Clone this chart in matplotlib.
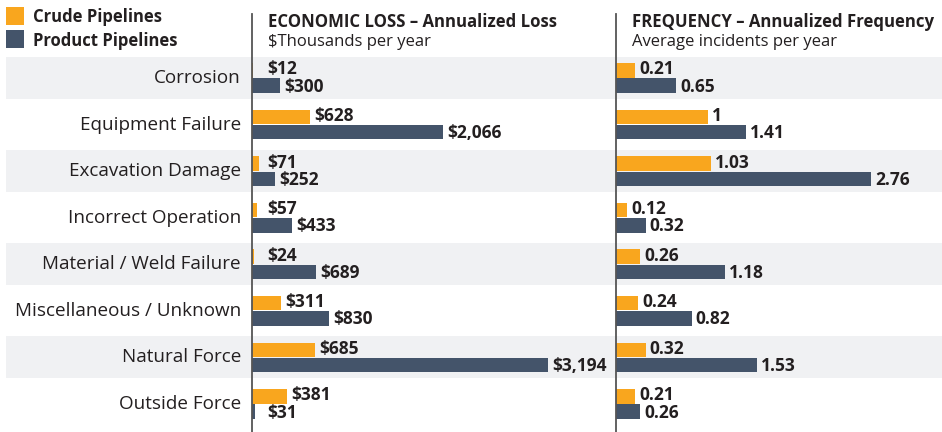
import matplotlib.pyplot as plt

# data
categories = [
    "Corrosion",
    "Equipment Failure",
    "Excavation Damage",
    "Incorrect Operation",
    "Material / Weld Failure",
    "Miscellaneous / Unknown",
    "Natural Force",
    "Outside Force",
]
loss_crude = [12, 628, 71, 57, 24, 311, 685, 381]
loss_product = [300, 2066, 252, 433, 689, 830, 3194, 31]
freq_crude = [0.21, 1, 1.03, 0.12, 0.26, 0.24, 0.32, 0.21]
freq_product = [0.65, 1.41, 2.76, 0.32, 1.18, 0.82, 1.53, 0.26]

series_names = ["Crude Pipelines", "Product Pipelines"]

ORANGE = "#F9A61E"
SLATE = "#44546A"
BAND = "#F0F1F3"
TEXT = "#231F20"
LINE = "#555555"

W, H = 942, 432
plt.rcParams["font.family"] = ["Open Sans", "DejaVu Sans"]

fig = plt.figure(figsize=(W / 100, H / 100), dpi=100)

# row geometry (pixels)
row0, pitch = 78, 46.57
y_top_full = -row0 / pitch
y_bot = (H - row0) / pitch
ax_top_px = 14
y_top_ax = (ax_top_px - row0) / pitch

# background bands + category labels
bg = fig.add_axes([0, 0, 1, 1])
bg.set_xlim(0, W)
bg.set_ylim(y_bot, y_top_full)
bg.axis("off")
for i, cat in enumerate(categories):
    if i % 2 == 0:
        bg.fill_between([6, W], i - 0.45, i + 0.45, color=BAND, lw=0, zorder=0)
    bg.text(241, i, cat, ha="right", va="center", fontsize=13.6, color=TEXT)

bar_h = 0.31
off = 0.165


def panel(left_px, right_px, xmax, crude, product, fmt, title, subtitle, min_px):
    ax = fig.add_axes([left_px / W, 0, (right_px - left_px) / W, 1 - ax_top_px / H])
    ax.patch.set_alpha(0)
    ax.set_xlim(0, xmax)
    ax.set_ylim(y_bot, y_top_ax)
    ys = range(len(crude))
    ax.barh([y - off for y in ys], crude, height=bar_h, color=ORANGE, lw=0)
    ax.barh([y + off for y in ys], product, height=bar_h, color=SLATE, lw=0)
    per_px = xmax / (right_px - left_px)
    for y, c, p in zip(ys, crude, product):
        for v, yy in ((c, y - off - 0.02), (p, y + off + 0.02)):
            x = max(v + 4 * per_px, min_px * per_px)
            ax.text(x, yy, fmt(v), ha="left", va="center", fontsize=12.5,
                    fontweight="bold", color=TEXT)
    for s in ("top", "right", "bottom"):
        ax.spines[s].set_visible(False)
    ax.spines["left"].set_color(LINE)
    ax.spines["left"].set_linewidth(1.3)
    ax.set_xticks([])
    ax.set_yticks([])
    fig.text((left_px + 16) / W, 1 - 22 / H, title, ha="left", va="center",
             fontsize=12.1, fontweight="bold", color=TEXT)
    fig.text((left_px + 16) / W, 1 - 42 / H, subtitle, ha="left", va="center",
             fontsize=12, color=TEXT)
    return ax


panel(252, 600, 348 * 3194 / 296, loss_crude, loss_product,
      lambda v: f"${v:,}", "ECONOMIC LOSS \u2013 Annualized Loss",
      "$Thousands per year", 15)
panel(616, W, 326 / 92.4, freq_crude, freq_product,
      lambda v: f"{v:g}", "FREQUENCY \u2013 Annualized Frequency",
      "Average incidents per year", 12)

# legend
for k, (name, col) in enumerate(zip(series_names, [ORANGE, SLATE])):
    yc = 16 + 23 * k
    fig.patches.append(plt.Rectangle((6 / W, 1 - (yc + 9) / H), 18 / W, 18 / H,
                                     transform=fig.transFigure, color=col, lw=0))
    fig.text(33 / W, 1 - (yc + 1.5) / H, name, ha="left", va="center",
             fontsize=12, fontweight="bold", color=TEXT)

fig.savefig("out.png", dpi=100)
